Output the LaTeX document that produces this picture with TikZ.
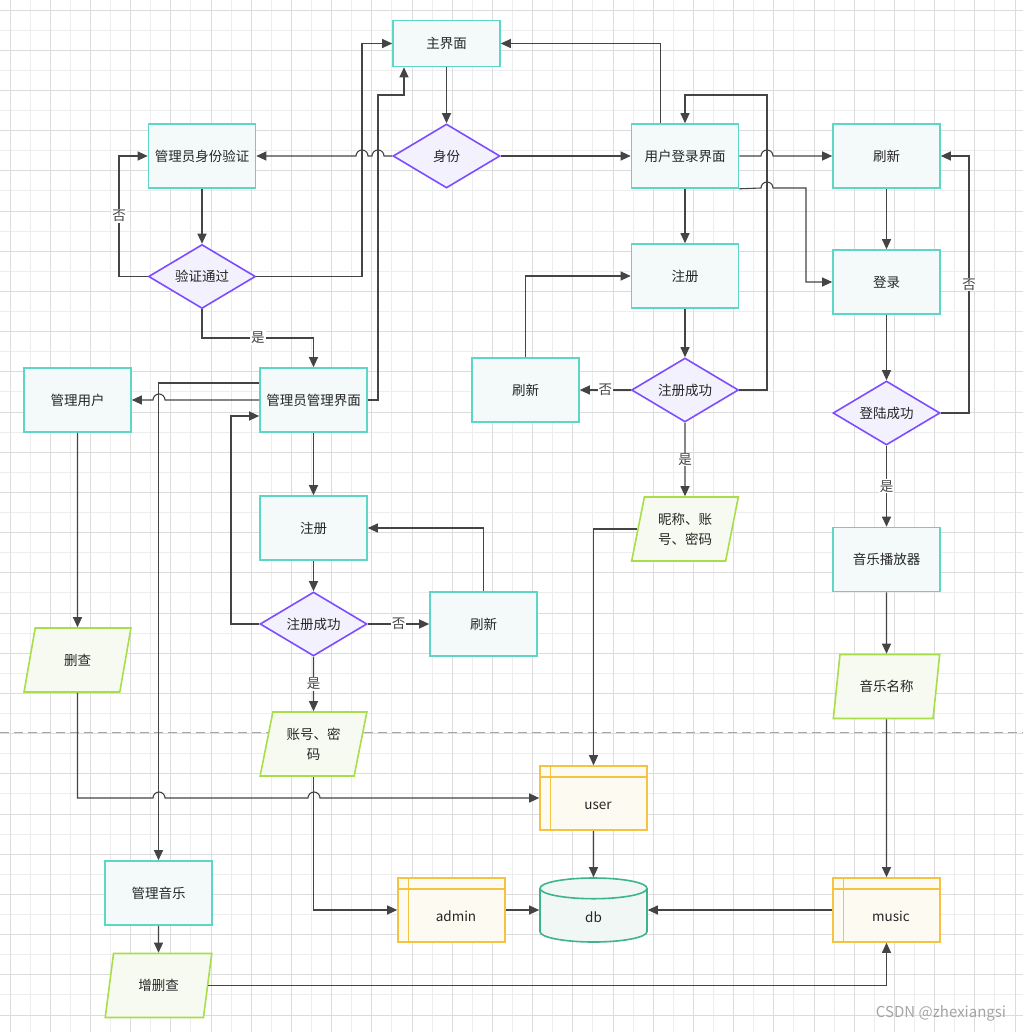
\documentclass[tikz,border=0pt]{standalone}
\usepackage{fontspec}
\setmainfont{Noto Sans CJK SC}
\usetikzlibrary{arrows.meta,shapes.geometric}
\definecolor{gridmajor}{RGB}{220,220,220}
\definecolor{gridminor}{RGB}{237,237,237}
\definecolor{tealline}{RGB}{94,214,198}
\definecolor{tealfill}{RGB}{244,250,250}
\definecolor{plum}{RGB}{124,77,255}
\definecolor{plumfill}{RGB}{244,241,255}
\definecolor{lime}{RGB}{168,222,74}
\definecolor{limefill}{RGB}{247,250,241}
\definecolor{amber}{RGB}{245,194,66}
\definecolor{amberfill}{RGB}{253,250,242}
\definecolor{jade}{RGB}{62,180,140}
\definecolor{jadefill}{RGB}{240,247,245}
\definecolor{wire}{RGB}{68,68,68}
\definecolor{markgray}{RGB}{165,165,165}
\newcommand\boxfont{\fontsize{13.5}{20}\selectfont}

\begin{document}
\begin{tikzpicture}[x=1pt,y=-1pt,
    shapebase/.style={line width=1.6pt,minimum width=107pt,minimum height=64pt,inner sep=2pt,font=\boxfont,text=black!85},
    procbox/.style={shapebase,draw=tealline,fill=tealfill},
    decision/.style={shapebase,diamond,aspect=1.6,inner sep=0pt,draw=plum,fill=plumfill},
    iobox/.style={shapebase,trapezium,trapezium left angle=76,trapezium right angle=104,
      trapezium stretches=true,draw=lime,fill=limefill,align=center},
    tablebox/.style={shapebase,draw=amber,fill=amberfill,text height=26pt,text depth=4pt,
      execute at begin node={\hspace*{9pt}},
      path picture={\draw[amber,line width=1.6pt]
        ([xshift=10.5pt]path picture bounding box.north west) -- ([xshift=10.5pt]path picture bounding box.south west)
        ([yshift=-11pt]path picture bounding box.north west) -- ([yshift=-11pt]path picture bounding box.north east);}},
    dbcyl/.style={shapebase,cylinder,shape border rotate=90,aspect=1,anchor=shape center,draw=jade,fill=jadefill},
    flow/.style={draw=wire,line width=1.1pt,-{Triangle[length=10pt,width=9pt]}},
    edgelabel/.style={fill=white,inner sep=1pt,font=\boxfont,text=wire}]
  \useasboundingbox (0,0) rectangle (1023,1032);
  \fill[white] (0,0) rectangle (1023,1032);
  % grid
  \foreach \k in {0,...,50}{
    \draw[gridminor,line width=0.9pt] (10+20.1*\k,0) -- (10+20.1*\k,1032);
    \draw[gridminor,line width=0.9pt] (0,10+20.1*\k) -- (1023,10+20.1*\k);
  }
  \foreach \k in {0,2,...,50}{
    \draw[gridmajor,line width=0.9pt] (10+20.1*\k,0) -- (10+20.1*\k,1032);
    \draw[gridmajor,line width=0.9pt] (0,10+20.1*\k) -- (1023,10+20.1*\k);
  }
  \draw[black!35,line width=0.9pt,dash pattern=on 9pt off 5pt] (0,732) -- (1023,732);

  % admin side
  \node[procbox,minimum height=46pt] (main) at (446.5,43.5) {主界面};
  \node[decision] (identity) at (446.5,156) {身份};
  \node[procbox] (adminauth) at (202,156) {管理员身份验证};
  \node[decision] (authok) at (202,276.5) {验证通过};
  \node[procbox] (adminpanel) at (313.5,400) {管理员管理界面};
  \node[procbox] (manageuser) at (77.5,400) {管理用户};
  \node[iobox] (crud) at (77.5,660) {删查};
  \node[procbox] (adminreg) at (313.5,528) {注册};
  \node[decision] (adminregok) at (313.5,624) {注册成功};
  \node[procbox] (adminrefresh) at (483.5,624) {刷新};
  \node[iobox] (admininfo) at (313.5,744) {账号、密\\码};
  \node[procbox] (managemusic) at (158.5,893) {管理音乐};
  \node[iobox] (musiccrud) at (158.5,985.5) {增删查};

  % user side
  \node[procbox] (userlogin) at (685,156) {用户登录界面};
  \node[procbox] (userreg) at (685,276) {注册};
  \node[decision] (userregok) at (685,390) {注册成功};
  \node[procbox] (userrefresh) at (525.5,390) {刷新};
  \node[iobox] (userinfo) at (685,529) {昵称、账\\号、密码};
  \node[procbox] (refreshtop) at (886.5,156) {刷新};
  \node[procbox] (login) at (886.5,282) {登录};
  \node[decision] (loginok) at (886.5,413) {登陆成功};
  \node[procbox] (player) at (886.5,559.5) {音乐播放器};
  \node[iobox] (musicname) at (886.5,686.5) {音乐名称};

  % storage
  \node[tablebox] (usertab) at (593.5,798) {user};
  \node[tablebox] (admintab) at (451.5,910) {admin};
  \node[tablebox] (musictab) at (886.5,910) {music};
  \node[dbcyl] (db) at (593.5,910) {db};

  \node[font=\fontsize{15}{17}\selectfont,text=markgray] (mark) at (941,1013) {CSDN @zhexiangsi};

  % connectors
  \draw[flow] (main.south) -- (identity.north);
  \draw[flow] (identity.west) -- (384,156) arc[start angle=0,end angle=180,radius=6pt]
    -- (368,156) arc[start angle=0,end angle=180,radius=6pt] -- (adminauth.east);
  \draw[flow] (identity.east) -- (userlogin.west);
  \draw[flow] (adminauth.south) -- (authok.north);
  \draw[flow] (authok.west) -- (119,276.5) |- node[edgelabel,pos=0.25]{否} (adminauth.west);
  \draw[flow] (authok.east) -- (362,276.5) |- (main.west);
  \draw[flow] (authok.south) -- (202,338) -- node[edgelabel]{是} (313.5,338) -- (adminpanel.north);
  \draw[flow] (adminpanel.east) -| (378,95) -| ([xshift=-42.5pt]main.south);
  \draw[flow] (adminpanel.west) -- (165,400) arc[start angle=0,end angle=180,radius=6pt] -- (manageuser.east);
  \draw[flow] ([yshift=17pt]adminpanel.west) -| (managemusic.north);
  \draw[flow] (adminpanel.south) -- (adminreg.north);
  \draw[flow] (adminreg.south) -- (adminregok.north);
  \draw[flow] (adminregok.west) -- (231,624) |- ([yshift=-16pt]adminpanel.west);
  \draw[flow] (adminregok.east) -- node[edgelabel]{否} (adminrefresh.west);
  \draw[flow] (adminrefresh.north) |- (adminreg.east);
  \draw[flow] (adminregok.south) -- node[edgelabel]{是} (admininfo.north);
  \draw[flow] (admininfo.south) |- (admintab.west);
  \draw[flow] (manageuser.south) -- (crud.north);
  \draw[flow] (crud.south) |- (153,798) arc[start angle=180,end angle=0,radius=6pt]
    -- (308,798) arc[start angle=180,end angle=0,radius=6pt] -- (usertab.west);
  \draw[flow] (managemusic.south) -- (musiccrud.north);
  \draw[flow] (musiccrud.east) -| (musictab.south);
  \draw[flow] (usertab.south) -- (db.north);
  \draw[flow] (admintab.east) -- (admintab.east -| db.west);
  \draw[flow] (musictab.west) -- (musictab.west -| db.east);

  \draw[flow] (userinfo.west) -| (usertab.north);
  \draw[flow] (musicname.south) -- (musictab.north);
  \draw[flow] (player.south) -- (musicname.north);
  \draw[flow] (loginok.south) -- node[edgelabel]{是} (player.north);
  \draw[flow] (loginok.east) -- (969,413) |- node[edgelabel,pos=0.25]{否} (refreshtop.east);
  \draw[flow] (refreshtop.south) -- (login.north);
  \draw[flow] (login.south) -- (loginok.north);
  \draw[flow] (userlogin.east) -- (761,156) arc[start angle=180,end angle=0,radius=6pt] -- (refreshtop.west);
  \draw[flow] (userlogin.south east) -- (761,188) arc[start angle=180,end angle=0,radius=6pt]
    -- (806,188) |- (login.west);
  \draw[flow] (userlogin.south) -- (userreg.north);
  \draw[flow] (userreg.south) -- (userregok.north);
  \draw[flow] (userregok.east) -| (767,95) -| (userlogin.north);
  \draw[flow] (userregok.west) -- node[edgelabel]{否} (userrefresh.east);
  \draw[flow] (userrefresh.north) |- (userreg.west);
  \draw[flow] (userregok.south) -- node[edgelabel]{是} (userinfo.north);
  \draw[flow] ([xshift=-24.5pt]userlogin.north) |- (main.east);
\end{tikzpicture}
\end{document}
